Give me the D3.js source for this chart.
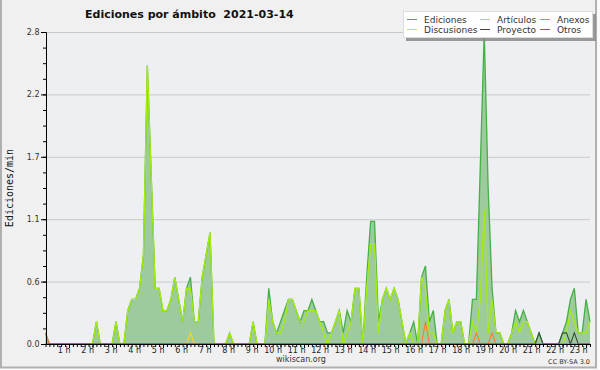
<!DOCTYPE html>
<html>
<head>
<meta charset="utf-8">
<script src="https://cdn.jsdelivr.net/npm/d3@7"></script>
<style>
  body { margin: 0; background: #fafafa; }
  text { font-family: "DejaVu Sans", sans-serif; }
</style>
</head>
<body>
<div id="chart"></div>
<script>
// 10 minute slots, 6 per hour, values in ediciones/min
const hourLabels = d3.range(1, 24);
const yTickValues = [0, 0.56, 1.12, 1.68, 2.24, 2.8];
const yTickLabels = ["0.0", "0.6", "1.1", "1.7", "2.2", "2.8"];
const seriesNames = ["Ediciones", "Artículos", "Anexos", "Discusiones", "Proyecto", "Otros"];

const ediciones = [
  0.1, 0, 0, 0, 0, 0,
  0, 0, 0, 0, 0, 0,
  0, 0.2, 0, 0, 0, 0,
  0.2, 0, 0, 0.3, 0.4, 0.4,
  0.5, 0.8, 2.5, 1.5, 0.5, 0.5,
  0.3, 0.3, 0.4, 0.6, 0.4, 0.2,
  0.5, 0.6, 0.2, 0.2, 0.6, 0.8,
  1.0, 0, 0, 0, 0, 0.1,
  0, 0, 0, 0, 0, 0.2,
  0, 0, 0, 0.5, 0.2, 0.1,
  0.2, 0.3, 0.4, 0.4, 0.3, 0.2,
  0.3, 0.3, 0.4, 0.3, 0.2, 0.2,
  0.1, 0.1, 0.2, 0.3, 0.1, 0.3,
  0.2, 0.5, 0.5, 0, 0.6, 1.1,
  1.1, 0.2, 0.4, 0.5, 0.4, 0.5,
  0.4, 0.2, 0, 0.1, 0.2, 0,
  0.6, 0.7, 0.2, 0.3, 0, 0,
  0.3, 0.4, 0.1, 0.2, 0.2, 0,
  0, 0.4, 0.4, 1.6, 2.8, 1.4,
  0.5, 0.1, 0.1, 0, 0, 0.1,
  0.3, 0.2, 0.3, 0.2, 0.1, 0,
  0.1, 0, 0, 0, 0, 0,
  0.1, 0.2, 0.4, 0.5, 0.1, 0.1,
  0.4, 0.2
];
const articulos = [
  0, 0, 0, 0, 0, 0,
  0, 0, 0, 0, 0, 0,
  0, 0.2, 0, 0, 0, 0,
  0.2, 0, 0, 0.3, 0.4, 0.4,
  0.5, 0.8, 2.5, 1.5, 0.5, 0.5,
  0.3, 0.3, 0.4, 0.6, 0.4, 0.2,
  0.5, 0.5, 0.2, 0.2, 0.6, 0.8,
  1.0, 0, 0, 0, 0, 0.1,
  0, 0, 0, 0, 0, 0.2,
  0, 0, 0, 0.4, 0.2, 0.1,
  0.1, 0.2, 0.4, 0.4, 0.3, 0.2,
  0.2, 0.3, 0.3, 0.3, 0.2, 0.1,
  0, 0.1, 0.2, 0.3, 0, 0.1,
  0.2, 0.5, 0.5, 0, 0.5, 0.9,
  0.9, 0.1, 0.4, 0.5, 0.4, 0.5,
  0.4, 0.2, 0, 0.1, 0, 0,
  0.6, 0.5, 0.1, 0.1, 0, 0,
  0.3, 0.4, 0.1, 0.2, 0.2, 0,
  0, 0.2, 0.1, 0.4, 1.2, 0.1,
  0.4, 0.1, 0.1, 0, 0, 0.1,
  0.2, 0.1, 0.2, 0.2, 0.1, 0,
  0, 0, 0, 0, 0, 0,
  0, 0.1, 0.3, 0.2, 0.1, 0.1,
  0.1, 0.2
];
const anexos = [
  0.1, 0, 0, 0, 0, 0,
  0, 0, 0, 0, 0, 0,
  0, 0, 0, 0, 0, 0,
  0, 0, 0, 0, 0, 0,
  0, 0, 0, 0, 0, 0,
  0, 0, 0, 0, 0, 0,
  0, 0, 0, 0, 0, 0,
  0, 0, 0, 0, 0, 0,
  0, 0, 0, 0, 0, 0,
  0, 0, 0, 0, 0, 0,
  0, 0, 0, 0, 0, 0,
  0, 0, 0, 0, 0, 0,
  0, 0, 0, 0, 0, 0,
  0, 0, 0, 0, 0, 0,
  0, 0, 0, 0, 0, 0,
  0, 0, 0, 0, 0, 0,
  0, 0.2, 0, 0, 0, 0,
  0, 0, 0, 0, 0, 0,
  0, 0, 0.1, 0, 0, 0,
  0.1, 0, 0, 0, 0, 0,
  0, 0, 0, 0, 0, 0,
  0, 0, 0, 0, 0, 0,
  0, 0, 0, 0, 0, 0,
  0, 0
];
const discusiones = [
  0, 0, 0, 0, 0, 0,
  0, 0, 0, 0, 0, 0,
  0, 0, 0, 0, 0, 0,
  0, 0, 0, 0, 0, 0,
  0, 0, 0, 0, 0, 0,
  0, 0, 0, 0, 0, 0,
  0, 0.1, 0, 0, 0, 0,
  0, 0, 0, 0, 0, 0,
  0, 0, 0, 0, 0, 0,
  0, 0, 0, 0, 0, 0,
  0, 0, 0, 0, 0, 0,
  0, 0, 0, 0, 0, 0,
  0, 0, 0, 0, 0, 0,
  0, 0, 0, 0, 0, 0,
  0, 0, 0, 0, 0, 0,
  0, 0, 0, 0, 0, 0,
  0, 0, 0, 0, 0, 0,
  0, 0, 0, 0, 0, 0,
  0, 0, 0, 0, 0, 0,
  0, 0, 0, 0, 0, 0,
  0, 0, 0, 0, 0, 0,
  0, 0, 0, 0, 0, 0,
  0, 0, 0, 0, 0, 0,
  0, 0
];
const proyecto = [
  0, 0, 0, 0, 0, 0,
  0, 0, 0, 0, 0, 0,
  0, 0, 0, 0, 0, 0,
  0, 0, 0, 0, 0, 0,
  0, 0, 0, 0, 0, 0,
  0, 0, 0, 0, 0, 0,
  0, 0, 0, 0, 0, 0,
  0, 0, 0, 0, 0, 0,
  0, 0, 0, 0, 0, 0,
  0, 0, 0, 0, 0, 0,
  0, 0, 0, 0, 0, 0,
  0, 0, 0, 0, 0, 0,
  0, 0, 0, 0, 0, 0,
  0, 0, 0, 0, 0, 0,
  0, 0, 0, 0, 0, 0,
  0, 0, 0, 0, 0, 0,
  0, 0, 0, 0, 0, 0,
  0, 0, 0, 0, 0, 0,
  0, 0, 0, 0, 0, 0,
  0, 0, 0, 0, 0, 0,
  0, 0, 0, 0, 0, 0,
  0.1, 0, 0, 0, 0, 0,
  0.1, 0.1, 0, 0.1, 0, 0,
  0, 0
];
const otros = [
  0, 0, 0, 0, 0, 0,
  0, 0, 0, 0, 0, 0,
  0, 0, 0, 0, 0, 0,
  0, 0, 0, 0, 0, 0,
  0, 0, 0, 0, 0, 0,
  0, 0, 0, 0, 0, 0,
  0, 0, 0, 0, 0, 0,
  0, 0, 0, 0, 0, 0,
  0, 0, 0, 0, 0, 0,
  0, 0, 0, 0, 0, 0,
  0, 0, 0, 0, 0, 0,
  0, 0, 0, 0, 0, 0,
  0, 0, 0, 0, 0, 0,
  0, 0, 0, 0, 0, 0,
  0, 0, 0, 0, 0, 0,
  0, 0, 0, 0, 0, 0,
  0, 0, 0, 0, 0, 0,
  0, 0, 0, 0, 0, 0,
  0, 0, 0, 0, 0, 0,
  0, 0, 0, 0, 0, 0,
  0, 0, 0, 0, 0, 0,
  0, 0, 0, 0, 0, 0,
  0, 0, 0, 0, 0, 0,
  0, 0
];

const seriesValues = [ediciones, articulos, anexos, discusiones, proyecto, otros];
const colors = {
  "Ediciones": "#45b045",
  "Artículos": "#a6ec10",
  "Anexos": "#ff7a30",
  "Discusiones": "#ffd21f",
  "Proyecto": "#394a39",
  "Otros": "#9b3cff"
};

const width = 600, height = 370;
const plotL = 46, plotR = 590, plotT = 32, plotB = 344;

const svg = d3.select("#chart").append("svg")
    .attr("width", width).attr("height", height);

// frame
svg.append("rect").attr("x", 1).attr("y", -5).attr("width", 595).attr("height", 372.5)
    .attr("fill", "#f0f0f0").attr("stroke", "#b0b0b0").attr("stroke-width", 2);

// plot background
svg.append("rect").attr("x", plotL).attr("y", plotT - 1).attr("width", plotR - plotL).attr("height", plotB - plotT + 1)
    .attr("fill", "#edeff2");

const x = d3.scaleLinear().domain([0, (ediciones.length - 1) / 6]).range([45.5, plotR]);
const y = d3.scaleLinear().domain([0, 2.8]).range([plotB, plotT]);

// grid
svg.append("g").attr("transform", `translate(${plotL},0)`)
    .call(d3.axisLeft(y).tickValues(yTickValues.slice(1)).tickSize(-(plotR - plotL)).tickFormat(""))
    .call(g => g.select(".domain").remove())
    .selectAll("line").attr("stroke", "#c9c9c9");

const tx = (d, i) => x(i / 6);

// area of total edits
svg.append("path")
    .attr("d", d3.area().x(tx).y0(y(0)).y1(d => y(d))(ediciones))
    .attr("fill", "#9ecb9e");

// lines, one per series
seriesNames.forEach((name, k) => {
    svg.append("path")
        .attr("d", d3.line().x(tx).y(d => y(d))(seriesValues[k]))
        .attr("fill", "none")
        .attr("stroke", colors[name])
        .attr("stroke-width", k < 2 ? 1.3 : 1.1)
        .attr("stroke-linejoin", "miter");
});

// x axis : minor ticks every 10 min, then hours with labels
svg.append("g").attr("transform", `translate(0,${plotB})`)
    .call(d3.axisBottom(x).tickValues(d3.range(0, ediciones.length).map(i => i / 6)).tickSize(3).tickFormat("").tickSizeOuter(0))
    .call(g => g.select(".domain").attr("d", `M44,0.5H${plotR}`));

svg.append("g").attr("transform", `translate(0,${plotB})`)
    .call(d3.axisBottom(x).tickValues(hourLabels).tickSize(4).tickFormat(d => d + " h"))
    .call(g => g.select(".domain").remove())
    .call(g => g.selectAll("text")
        .attr("text-anchor", "end").attr("x", 1).attr("y", 3)
        .attr("font-family", "DejaVu Sans").attr("font-size", 8).attr("fill", "#222"));

// y axis
svg.append("g").attr("transform", `translate(${plotL},0)`)
    .call(d3.axisLeft(y).tickValues(d3.range(0, 2.81, 0.14)).tickSize(3).tickFormat("").tickSizeOuter(0));

svg.append("g").attr("transform", `translate(${plotL},0)`)
    .call(d3.axisLeft(y).tickValues(yTickValues).tickSize(5).tickSizeOuter(0)
        .tickFormat((d, i) => yTickLabels[i]))
    .call(g => g.selectAll("text")
        .attr("x", -6.5)
        .attr("font-family", "DejaVu Sans").attr("font-size", 8).attr("fill", "#333"));

// titles
svg.append("text").attr("x", 85).attr("y", 18)
    .attr("font-size", 11).attr("font-weight", "bold").attr("fill", "#111")
    .style("white-space", "pre")
    .text("Ediciones por ámbito  2021-03-14");

svg.append("text")
    .attr("transform", "translate(13,188) rotate(-90)")
    .attr("text-anchor", "middle")
    .style("font-family", "'DejaVu Sans Mono', monospace")
    .attr("font-size", 10).attr("fill", "#111")
    .text("Ediciones/min");

svg.append("text").attr("x", 301).attr("y", 362).attr("text-anchor", "middle")
    .attr("font-size", 8).attr("fill", "#333").text("wikiscan.org");

svg.append("text").attr("x", 590).attr("y", 364).attr("text-anchor", "end")
    .attr("font-size", 6.5).attr("fill", "#333").text("CC BY-SA 3.0");

// legend
const legend = svg.append("g");
legend.append("rect").attr("x", 406).attr("y", 14).attr("width", 190).attr("height", 27)
    .attr("fill", "#8a8a8a").attr("opacity", 0.85);
legend.append("rect").attr("x", 403.5).attr("y", 11.5).attr("width", 189).attr("height", 26)
    .attr("fill", "#fff").attr("stroke", "#ddd");

const colX = [407, 480, 540];
seriesNames.forEach((name, k) => {
    const cx = colX[k % 3], cy = k < 3 ? 19.5 : 29.5;
    legend.append("line").attr("x1", cx).attr("x2", cx + 10).attr("y1", cy).attr("y2", cy)
        .attr("stroke", colors[name]).attr("stroke-width", 1);
    legend.append("text").attr("x", cx + 17).attr("y", cy + 3.2)
        .attr("font-size", 9).attr("fill", "#333").text(name);
});
</script>
</body>
</html>
